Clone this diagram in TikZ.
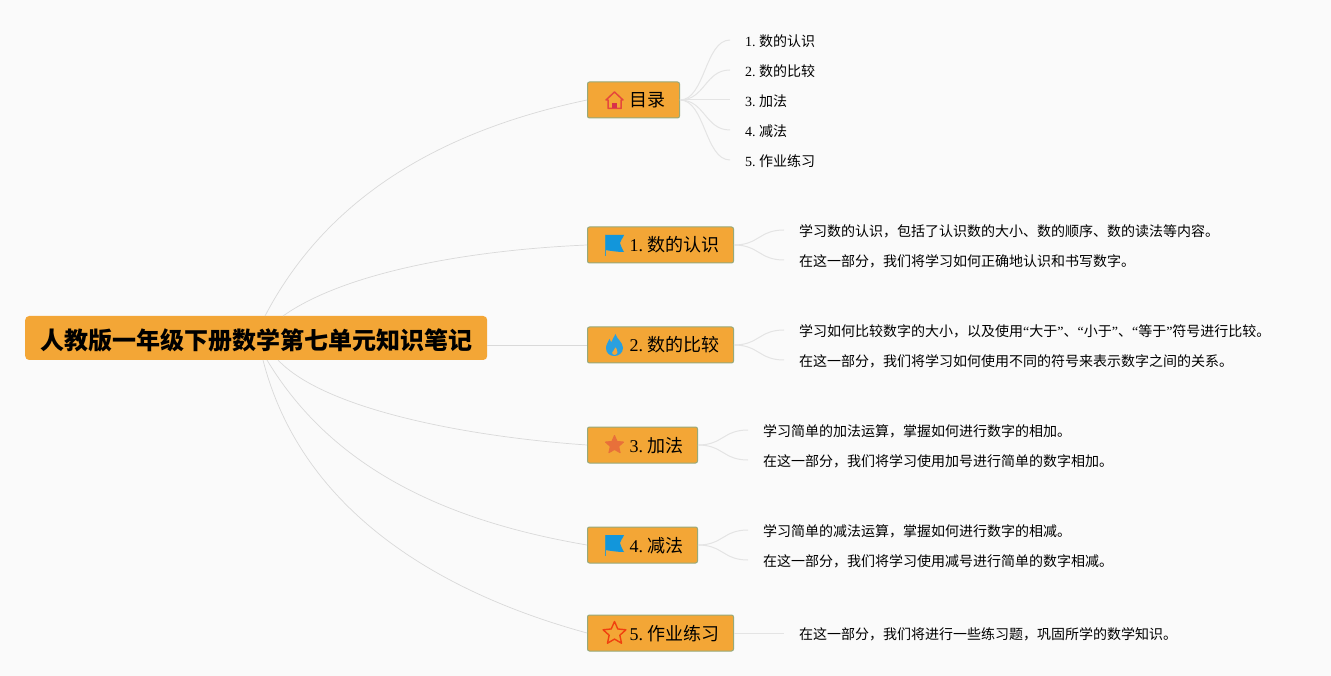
\documentclass[tikz,border=0pt]{standalone}
\usepackage{fontspec}
\setmainfont{Liberation Serif}
\newfontfamily\cjk{Noto Sans CJK SC}
\usetikzlibrary{positioning}
\definecolor{paper}{HTML}{FAFAFA}
\definecolor{boxfill}{HTML}{F3A636}
\definecolor{boxline}{HTML}{96A97A}
\definecolor{linkgray}{HTML}{D9D9D9}
\definecolor{leafgray}{HTML}{E4E4E4}
\definecolor{flagblue}{HTML}{1296DB}
\definecolor{homered}{HTML}{E5483C}
\definecolor{doorred}{HTML}{D8304A}
\definecolor{starfill}{HTML}{E8703A}
\definecolor{starline}{HTML}{F0410F}
\newcommand{\starpath}[2]{(-90:#1) -- (-54:#2) -- (-18:#1) -- (18:#2) -- (54:#1) -- (90:#2) -- (126:#1) -- (162:#2) -- (198:#1) -- (234:#2) -- cycle}
\newcommand{\num}[1]{{\rmfamily\frenchspacing #1 }}
\newcommand{\partnum}[1]{\hspace*{42pt}\num{#1}\kern-2pt}
\newcommand{\qt}[1]{{\rmfamily #1}}
\tikzset{
    rootbox/.style={fill=boxfill, rounded corners=4pt, minimum width=462pt, minimum height=44pt, inner sep=0pt, anchor=west, text height=22pt, text depth=0pt, font=\fontsize{24}{28}\cjk\bfseries},
    branch/.style={draw=boxline, line width=1pt, fill=boxfill, rounded corners=2pt, text width=#1pt, minimum height=36pt, inner xsep=0pt, inner ysep=0pt, anchor=west, align=left, text height=15pt, text depth=1pt, font=\fontsize{18}{22}\cjk},
    leaf/.style={inner xsep=15pt, inner ysep=0pt, anchor=west, text height=13pt, text depth=0pt, font=\fontsize{14}{17}\cjk},
    link/.style={draw=linkgray, line width=0.7pt},
    leaflink/.style={draw=leafgray, line width=1pt},
    pics/homeicon/.style={code={
        \draw[draw=homered, line width=1.5pt, line join=round] (-8.5,0) -- (0,-8) -- (8.5,0) -- (6.5,0) -- (6.5,8.5) -- (-6.5,8.5) -- (-6.5,0) -- cycle;
        \fill[doorred] (-2.5,3) rectangle (2.5,8.5);
    }},
    pics/flagicon/.style={code={
        \fill[flagblue] (-9.5,-10) -- (9.5,-10) .. controls (8,-6) and (6,-5) .. (5.5,-2) .. controls (6,1) and (8,4) .. (9.5,7) .. controls (3,7) and (-3,6) .. (-9.5,5) -- cycle;
        \draw[flagblue!70!boxline, line width=0.8pt] (-9.5,-10) -- (-9.5,11);
    }},
    pics/flameicon/.style={code={
        \fill[flagblue!90!white, even odd rule] (1,-11) .. controls (2,-6) and (8.5,-3) .. (8.5,3) .. controls (8.5,8) and (4,11) .. (0,11) .. controls (-5,11) and (-8.5,8) .. (-8.5,3) .. controls (-8.5,-1) and (-6,-3) .. (-5,-6) .. controls (-4,-4) and (-3.5,-3) .. (-3,-3) .. controls (-2,-5) and (-1,-8) .. (1,-11) -- cycle
            (1,2) .. controls (2,4) and (3.5,5) .. (3,8) .. controls (2.5,9.5) and (1,10) .. (0,10) .. controls (-1.5,10) and (-2.5,9) .. (-2.5,7.5) .. controls (-2,6) and (0,5) .. (1,2) -- cycle;
    }},
    pics/staricon/.style={code={
        \fill[starfill, draw=starfill, line width=1pt, line join=round] \starpath{9.5}{4.4};
    }},
    pics/outlinestar/.style={code={
        \draw[draw=starline, line width=1.4pt, line join=round] \starpath{12}{5.6};
    }},
}
\begin{document}
\begin{tikzpicture}[x=1pt, y=-1pt]
\fill[paper] (0,0) rectangle (1331,676);
\useasboundingbox (0,0) rectangle (1331,676);

\node[rootbox] (root) at (25,338) {人教版一年级下册数学第七单元知识笔记};
\coordinate (rootmid) at (487,345);
\coordinate (rootup1) at (265,316);
\coordinate (rootup2) at (283,316);
\coordinate (rootdown3) at (278,360);
\coordinate (rootdown4) at (267,360);
\coordinate (rootdown5) at (263,360);

\node[branch=92] (home) at (587,100) {\hspace*{42pt}目录};
\node[branch=146] (part1) at (587,245) {\partnum{1.}数的认识};
\node[branch=146] (part2) at (587,345) {\partnum{2.}数的比较};
\node[branch=110] (part3) at (587,445) {\partnum{3.}加法};
\node[branch=110] (part4) at (587,545) {\partnum{4.}减法};
\node[branch=146] (part5) at (587,633) {\partnum{5.}作业练习};

\pic at (614.5,100) {homeicon};
\pic at (614.5,245) {flagicon};
\pic at (614.5,345) {flameicon};
\pic at (614.5,445) {staricon};
\pic at (614.5,545) {flagicon};
\pic at (614.5,633.5) {outlinestar};

\node[leaf] (home1) at (730,40) {\num{1.}数的认识};
\node[leaf] (home2) at (730,70) {\num{2.}数的比较};
\node[leaf] (home3) at (730,100) {\num{3.}加法};
\node[leaf] (home4) at (730,130) {\num{4.}减法};
\node[leaf] (home5) at (730,160) {\num{5.}作业练习};
\node[leaf] (text1a) at (784,230) {学习数的认识，包括了认识数的大小、数的顺序、数的读法等内容。};
\node[leaf] (text1b) at (784,260) {在这一部分，我们将学习如何正确地认识和书写数字。};
\node[leaf] (text2a) at (784,330) {学习如何比较数字的大小，以及使用\qt{“}大于\qt{”}、\qt{“}小于\qt{”}、\qt{“}等于\qt{”}符号进行比较。};
\node[leaf] (text2b) at (784,360) {在这一部分，我们将学习如何使用不同的符号来表示数字之间的关系。};
\node[leaf] (text3a) at (748,430) {学习简单的加法运算，掌握如何进行数字的相加。};
\node[leaf] (text3b) at (748,460) {在这一部分，我们将学习使用加号进行简单的数字相加。};
\node[leaf] (text4a) at (748,530) {学习简单的减法运算，掌握如何进行数字的相减。};
\node[leaf] (text4b) at (748,560) {在这一部分，我们将学习使用减号进行简单的数字相减。};
\node[leaf] (text5) at (784,633) {在这一部分，我们将进行一些练习题，巩固所学的数学知识。};

\draw[link] (rootup1) .. controls +(60,-115) and +(-152,32) .. (home.west);
\draw[link] (rootup2) .. controls +(62,-44) and +(-117,5) .. (part1.west);
\draw[link] (rootmid) -- (part2.west);
\draw[link] (rootdown3) .. controls +(47,50) and +(-117,-8) .. (part3.west);
\draw[link] (rootdown4) .. controls +(63,105) and +(-147,-25) .. (part4.west);
\draw[link] (rootdown5) .. controls +(37,145) and +(-157,-43) .. (part5.west);

\foreach \leafname in {home1,home2,home3,home4,home5}
    \draw[leaflink] (home.east) .. controls +(25,0) and +(-25,0) .. (\leafname.west);
\draw[leaflink] (part1.east) .. controls +(25,0) and +(-25,0) .. (text1a.west);
\draw[leaflink] (part1.east) .. controls +(25,0) and +(-25,0) .. (text1b.west);
\draw[leaflink] (part2.east) .. controls +(25,0) and +(-25,0) .. (text2a.west);
\draw[leaflink] (part2.east) .. controls +(25,0) and +(-25,0) .. (text2b.west);
\draw[leaflink] (part3.east) .. controls +(25,0) and +(-25,0) .. (text3a.west);
\draw[leaflink] (part3.east) .. controls +(25,0) and +(-25,0) .. (text3b.west);
\draw[leaflink] (part4.east) .. controls +(25,0) and +(-25,0) .. (text4a.west);
\draw[leaflink] (part4.east) .. controls +(25,0) and +(-25,0) .. (text4b.west);
\draw[leaflink] (part5.east) -- (text5.west);
\end{tikzpicture}
\end{document}
